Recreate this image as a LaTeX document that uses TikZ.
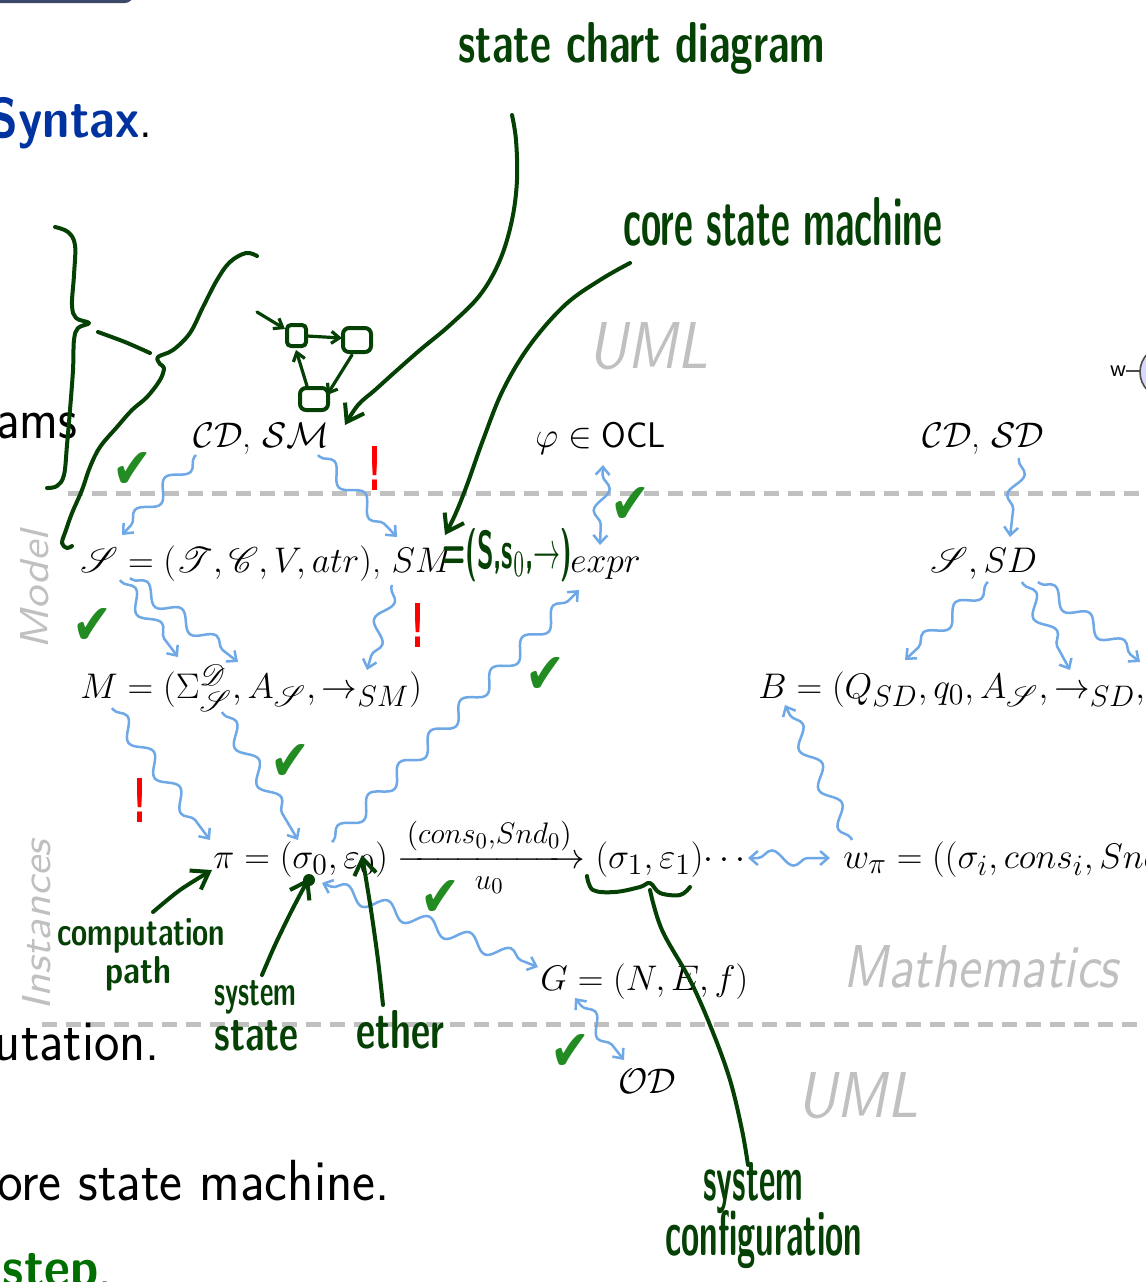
\documentclass[tikz,border=0pt]{standalone}
\usepackage{amsmath,amssymb}
\usepackage{mathrsfs}
\usepackage{fontspec}
\usepackage{graphicx}
\usetikzlibrary{decorations.pathmorphing,arrows.meta,calc}
\newfontfamily\djv{DejaVu Sans}
\DeclareMathSizes{17.28}{17.28}{14.4}{10.95}
\definecolor{wblue}{RGB}{110,168,230}
\definecolor{hgreen}{RGB}{5,65,5}
\definecolor{ckgreen}{RGB}{34,139,34}
\definecolor{glabel}{RGB}{192,192,192}
\definecolor{synblue}{RGB}{0,51,160}
\definecolor{navybar}{RGB}{60,72,105}
\definecolor{stepgreen}{RGB}{0,110,0}
\newcommand\hw[3]{\resizebox{#1}{#2}{\sffamily\bfseries #3}}
\newcommand\ck{\resizebox{20pt}{18pt}{\djv ✔}}
\newcommand\bang{\resizebox{6.5pt}{22pt}{\djv\bfseries !}}
\tikzset{
  mt/.style={inner sep=0, anchor=base west, scale=1.03, font=\fontsize{17.28}{21}\selectfont},
  body/.style={inner sep=0, anchor=base east},
  gl/.style={inner sep=0, text=glabel, font=\sffamily\itshape},
  hand/.style={draw=hgreen, line width=2pt, line cap=round, line join=round},
  htext/.style={inner sep=0, anchor=base west, text=hgreen},
  harrow/.style={hand, -{Straight Barb[length=8pt,width=11pt,line width=2pt]}},
  sarrow/.style={hand, line width=1.6pt, -{Straight Barb[length=4pt,width=6pt]}},
  gdash/.style={draw=glabel, line width=2.5pt, dash pattern=on 7.5pt off 4.5pt},
  wig/.style={draw=wblue, line width=1.25pt, decorate,
    decoration={snake, amplitude=3.8pt, segment length=22pt, post length=5pt, pre length=1pt},
    -{Straight Barb[length=4pt,width=7pt]}},
  wigb/.style={wig, decoration={snake, amplitude=3.8pt, segment length=22pt, post length=5pt, pre length=5pt},
    {Straight Barb[length=4pt,width=7pt]}-{Straight Barb[length=4pt,width=7pt]}},
  ckm/.style={inner sep=0, text=ckgreen},
  bangm/.style={inner sep=0, text=red},
}
\begin{document}
\begin{tikzpicture}[x=0.5pt,y=-0.5pt]
\useasboundingbox (0,0) rectangle (1146,1282);
\clip (0,0) rectangle (1146,1282);
\fill[white] (0,0) rectangle (1146,1282);
% frame bar
\fill[navybar, rounded corners=4pt] (-20,-20) rectangle (133,3);
% dashed separators
\draw[gdash] (68,493) -- (1146,493);
\draw[gdash] (42,1024) -- (1146,1024);
% slide body text
\node[body] (syn) at (153,137) {\scalebox{0.87}[1]{\fontsize{28}{30}\selectfont\sffamily{\color{synblue}\bfseries Syntax}.}};
\node[body] (ams) at (78,438) {\scalebox{0.9}[1]{\fontsize{29}{30}\selectfont\sffamily ams}};
\node[body] (uta) at (160,1060) {\scalebox{0.93}[1]{\fontsize{29}{30}\selectfont\sffamily utation.}};
\node[body] (ore) at (390,1200) {\scalebox{0.94}[1]{\fontsize{29}{30}\selectfont\sffamily ore state machine.}};
\node[body] (stp) at (112,1286) {\scalebox{0.9}[1]{\fontsize{28}{30}\selectfont\sffamily{\color{stepgreen}\bfseries step}.}};
% gray labels
\node[gl, anchor=base west] (uml1) at (588,368) {\resizebox{60pt}{23pt}{UML}};
\node[gl, anchor=base west] (mth) at (843,987) {\resizebox{137.5pt}{21pt}{Mathematics}};
\node[gl, anchor=base west] (uml2) at (797,1117) {\resizebox{60.5pt}{22.5pt}{UML}};
\node[gl, rotate=90] (mdl) at (35,590) {\resizebox{59pt}{14pt}{Model}};
\node[gl, rotate=90] (ins) at (37,925) {\resizebox{85pt}{14pt}{Instances}};
% w and circle at the right edge
\node[inner sep=0, font=\fontsize{12}{14}\selectfont\sffamily] (wlab) at (1118,371) {w};
\draw[fill=blue!15, draw=black!70, line width=0.8pt] (1166,372) circle[radius=13pt];
\draw[black!70, line width=0.8pt] (wlab.east) -- (1140,371);
% math nodes
\node[mt] (cdsm) at (193,447) {$\mathcal{CD}$, $\mathcal{SM}$};
\node[mt] (phi) at (535,447) {$\varphi\in{}$\textsf{OCL}};
\node[mt] (cdsd) at (922,447) {$\mathcal{CD}$, $\mathcal{SD}$};
\node[mt] (sig) at (80,572) {$\mathscr{S} = (\mathscr{T},\mathscr{C},V,atr)$, $SM$};
\node[mt] (expr) at (570,572) {$expr$};
\node[mt] (ssd) at (930,572) {$\mathscr{S}, SD$};
\node[mt] (mm) at (80,698) {$M = (\Sigma_{\mathscr{S}}^{\mathscr{D}}, A_{\mathscr{S}}, \to_{SM})$};
\node[mt] (bb) at (758,698) {$B = (Q_{SD}, q_0, A_{\mathscr{S}}, \to_{SD}, F_{SD})$};
\node[mt] (pi) at (213,868) {$\pi = (\sigma_0, \varepsilon_0) \xrightarrow[u_0]{(cons_0, Snd_0)} (\sigma_1, \varepsilon_1)\!\cdots$};
\node[mt] (wpi) at (843,868) {$w_\pi = ((\sigma_i, cons_i, Snd_i, u_i))_{i\in\mathbb{N}_0}$};
\node[mt] (gg) at (540,990) {$G = (N, E, f)$};
\node[mt] (od) at (618,1093) {$\mathcal{OD}$};
% wiggly connectors
\draw[wig] ($(cdsm.base west)+(3,8)$) -- ($(sig.base west)+(42,-37)$);
\draw[wig] ($(cdsm.base west)+(125,8)$) -- ($(sig.base west)+(317,-35)$);
\draw[wigb] ($(phi.base west)+(68,18)$) -- ($(expr.base west)+(30,-27)$);
\draw[wig] ($(cdsd.base west)+(97,11)$) -- ($(ssd.base west)+(80,-35)$);
\draw[wig] ($(sig.base west)+(40,8)$) -- ($(mm.base west)+(98,-41)$);
\draw[wig] ($(sig.base west)+(50,6)$) -- ($(mm.base west)+(158,-36)$);
\draw[wig] ($(sig.base west)+(312,13)$) -- ($(mm.base west)+(287,-28)$);
\draw[wig] ($(mm.base west)+(32,10)$) -- ($(pi.base west)+(-3,-28)$);
\draw[wig] ($(mm.base west)+(142,14)$) -- ($(pi.base west)+(85,-28)$);
\draw[wig] ($(pi.base west)+(119,-26)$) -- ($(expr.base west)+(9,18)$);
\draw[wig] ($(ssd.base west)+(58,10)$) -- ($(bb.base west)+(147,-38)$);
\draw[wig] ($(ssd.base west)+(92,10)$) -- ($(bb.base west)+(312,-28)$);
\draw[wig] ($(ssd.base west)+(108,10)$) -- ($(bb.base west)+(382,-36)$);
\draw[wig] ($(wpi.base west)+(9,-28)$) -- ($(bb.base west)+(27,7)$);
\draw[wigb] ($(pi.base west)+(535,-10)$) -- ($(wpi.base west)+(-13,-10)$);
\draw[wigb] ($(pi.base west)+(109,15)$) -- ($(gg.base west)+(-2,-23)$);
\draw[wigb] ($(gg.base west)+(35,8)$) -- ($(od.base west)+(6,-33)$);
% check marks
\node[ckm] (c1) at (132,470) {\ck};
\node[ckm] (c2) at (92,626) {\ck};
\node[ckm] (c3) at (630,505) {\ck};
\node[ckm] (c4) at (545,675) {\ck};
\node[ckm] (c5) at (290,762) {\ck};
\node[ckm] (c6) at (440,898) {\ck};
\node[ckm] (c7) at (570,1052) {\ck};
% exclamation marks
\node[bangm] (b1) at (375,468) {\bang};
\node[bangm] (b2) at (418,625) {\bang};
\node[bangm] (b3) at (140,800) {\bang};
% handwritten annotations
\node[htext] (hsc) at (458,62) {\hw{183.5pt}{20pt}{state chart diagram}};
\node[htext] (hcs) at (623,245) {\hw{159.5pt}{24pt}{core state machine}};
\node[htext] (hcomp) at (57,945) {\hw{84pt}{13.5pt}{computation}};
\node[htext] (hpath) at (105,983) {\hw{33pt}{13.5pt}{path}};
\node[htext] (hsys1) at (214,1005) {\hw{41pt}{12.5pt}{system}};
\node[htext] (hstate) at (214,1050) {\hw{42pt}{15pt}{state}};
\node[htext] (heth) at (356,1048) {\hw{44pt}{19pt}{ether}};
\node[htext] (hsys2) at (703,1200) {\hw{50pt}{19pt}{system}};
\node[htext] (hconf) at (665,1255) {\hw{98.5pt}{22.5pt}{configuration}};
\node[htext] (hsm) at (442,568) {\hw{65pt}{20pt}{=(S,s$_0$,$\rightarrow$)}};
% hand strokes
\draw[hand] plot[smooth, tension=0.6] coordinates {(55,227) (68,232) (75,245) (74,275) (72,305) (76,318) (89,323) (78,328) (74,340) (73,370) (70,410) (67,445) (64,475) (57,486) (47,488)};
\draw[hand] plot[smooth] coordinates {(98,332) (125,342) (150,353)};
\draw[hand] plot[smooth, tension=0.6] coordinates {(257,256) (246,253) (230,262) (217,280) (203,307) (190,333) (173,350) (158,357) (160,364) (164,368) (160,380) (147,397) (132,410) (117,427) (100,447) (90,467) (82,490) (72,513) (66,530) (62,543) (67,548) (72,546)};
% small state diagram doodle
\draw[hand, rounded corners=2pt] (287,325) rectangle (306,346);
\draw[hand, rounded corners=3pt] (343,328) rectangle (371,352);
\draw[hand, rounded corners=3pt] (300,388) rectangle (328,410);
\draw[sarrow] (257,312) -- (285,329);
\draw[sarrow] (307,336) -- (342,338);
\draw[sarrow] (352,355) -- (327,395);
\draw[sarrow] (307,386) -- (296,350);
% annotation arrows
\draw[harrow] plot[smooth, tension=0.6] coordinates {(512,115) (516,140) (517,180) (512,220) (500,260) (480,295) (450,325) (420,350) (395,372) (375,390) (358,405) (345,425)};
\draw[harrow] plot[smooth, tension=0.6] coordinates {(630,263) (600,280) (565,305) (530,345) (503,390) (483,440) (467,485) (455,515) (445,535)};
\draw[harrow] plot[smooth] coordinates {(153,912) (180,890) (212,870)};
\draw[harrow] plot[smooth] coordinates {(262,975) (275,945) (292,910) (309,878)};
\fill[hgreen] (309,880) circle[radius=3pt];
\draw[harrow] plot[smooth] coordinates {(383,1005) (378,960) (371,910) (362,855)};
\draw[hand] plot[smooth, tension=0.6] coordinates {(587,876) (593,890) (615,892) (640,887) (650,883) (660,893) (680,895) (690,887)};
\draw[hand] plot[smooth, tension=0.6] coordinates {(650,890) (662,930) (690,980) (712,1030) (730,1080) (742,1130) (748,1165)};
\end{tikzpicture}
\end{document}
